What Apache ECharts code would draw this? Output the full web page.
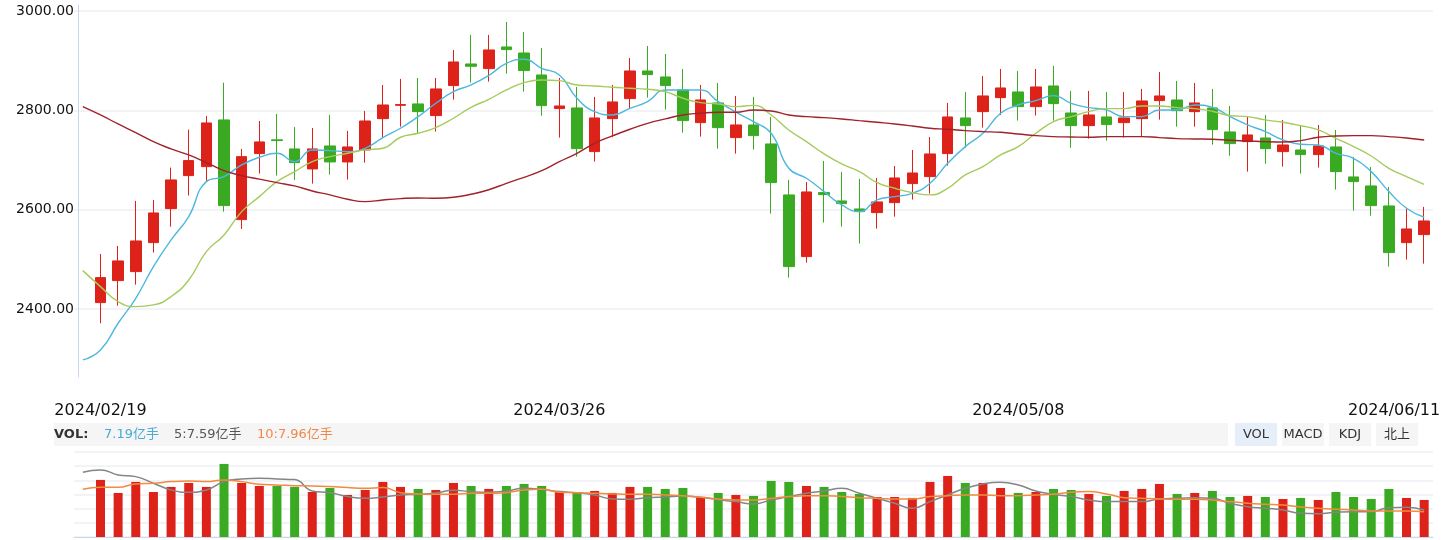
<!DOCTYPE html>
<html><head><meta charset="utf-8">
<script src="https://cdn.jsdelivr.net/npm/echarts@6/dist/echarts.min.js"></script>
<style>html,body{margin:0;padding:0;background:#fff}#c{width:1444px;height:540px}</style>
</head><body><div id="c"></div>
<script>
const dates = ['2024/02/08',
'2024/02/19','2024/02/20','2024/02/21','2024/02/22','2024/02/23','2024/02/26','2024/02/27','2024/02/28','2024/02/29',
'2024/03/01','2024/03/04','2024/03/05','2024/03/06','2024/03/07','2024/03/08','2024/03/11','2024/03/12','2024/03/13','2024/03/14','2024/03/15','2024/03/18','2024/03/19','2024/03/20','2024/03/21','2024/03/22','2024/03/25','2024/03/26','2024/03/27','2024/03/28','2024/03/29',
'2024/04/01','2024/04/02','2024/04/03','2024/04/08','2024/04/09','2024/04/10','2024/04/11','2024/04/12','2024/04/15','2024/04/16','2024/04/17','2024/04/18','2024/04/19','2024/04/22','2024/04/23','2024/04/24','2024/04/25','2024/04/26','2024/04/29','2024/04/30',
'2024/05/06','2024/05/07','2024/05/08','2024/05/09','2024/05/10','2024/05/13','2024/05/14','2024/05/15','2024/05/16','2024/05/17','2024/05/20','2024/05/21','2024/05/22','2024/05/23','2024/05/24','2024/05/27','2024/05/28','2024/05/29','2024/05/30','2024/05/31',
'2024/06/03','2024/06/04','2024/06/05','2024/06/06','2024/06/07','2024/06/11'];

const shownLabels = ['2024/02/19','2024/03/26','2024/05/08','2024/06/11'];

// candles (from 2024/02/19)
const opens = [2412.8,2457.1,2475.2,2533.6,2602.0,2668.5,2686.6,2780.6,2579.9,2712.8,
2740.5,2722.2,2681.9,2728.2,2696.0,2720.1,2783.2,2810.0,2812.8,2789.3,
2849.7,2893.3,2883.9,2927.5,2915.4,2871.1,2803.4,2804.7,2716.8,2783.2,
2823.5,2879.2,2867.1,2841.0,2775.2,2814.8,2745.0,2770.5,2732.2,2629.6,
2505.4,2634.3,2617.5,2601.4,2594.0,2614.1,2652.4,2666.5,2712.8,2784.6,
2797.3,2825.5,2836.9,2807.4,2849.0,2794.6,2769.1,2786.6,2775.2,2783.2,
2819.5,2820.8,2797.3,2804.7,2756.4,2736.9,2744.3,2716.8,2720.1,2710.8,
2726.2,2665.8,2647.7,2607.4,2533.6,2549.7];
const closes = [2463.1,2496.7,2536.9,2593.3,2659.8,2698.7,2774.5,2608.1,2706.7,2736.3,
2739.0,2694.6,2722.2,2696.0,2726.2,2778.5,2810.7,2811.5,2797.3,2843.0,
2897.3,2888.6,2921.5,2922.2,2879.9,2809.4,2808.7,2722.8,2784.6,2816.8,
2879.2,2871.8,2849.7,2779.2,2820.8,2765.1,2770.5,2749.0,2654.4,2485.3,
2635.6,2630.2,2612.1,2596.0,2615.5,2663.8,2673.8,2712.1,2786.6,2769.1,
2828.9,2845.0,2807.4,2847.0,2813.4,2769.1,2790.6,2771.2,2784.6,2818.8,
2828.9,2799.3,2814.8,2761.1,2732.9,2750.4,2722.8,2730.2,2710.8,2728.2,
2676.5,2656.4,2608.1,2513.5,2561.1,2577.2];
const lows = [2371.2,2406.7,2449.0,2513.5,2565.8,2628.2,2657.7,2596.0,2561.1,2672.5,
2668.5,2659.8,2652.4,2670.5,2660.4,2694.6,2745.0,2767.1,2753.0,2757.1,
2821.5,2855.7,2857.7,2873.8,2837.6,2789.3,2745.0,2706.7,2696.7,2745.7,
2802.7,2825.5,2801.4,2755.0,2747.0,2722.8,2712.8,2720.8,2592.0,2463.1,
2493.3,2573.9,2565.8,2531.6,2561.8,2585.9,2620.2,2632.2,2688.6,2724.8,
2765.1,2790.6,2779.2,2789.3,2779.2,2724.8,2743.0,2738.9,2745.0,2747.0,
2781.2,2767.1,2767.1,2730.9,2708.7,2676.5,2692.6,2686.6,2672.5,2684.6,
2640.3,2598.0,2587.9,2485.3,2499.4,2491.3];
const highs = [2510.8,2526.9,2617.5,2619.5,2684.6,2761.1,2788.6,2855.7,2722.2,2778.5,
2792.6,2766.5,2764.4,2790.6,2758.4,2798.7,2851.0,2863.1,2865.1,2865.1,
2921.5,2951.7,2951.7,2977.9,2957.7,2925.5,2865.1,2847.0,2826.9,2851.0,
2905.4,2929.5,2913.4,2883.2,2851.0,2855.0,2828.9,2826.9,2786.6,2659.8,
2655.7,2698.0,2675.9,2661.8,2663.8,2687.9,2720.1,2746.3,2814.8,2836.9,
2869.1,2883.2,2879.2,2883.2,2889.3,2838.9,2838.9,2836.9,2836.9,2843.0,
2877.2,2859.1,2855.0,2843.0,2808.7,2786.6,2790.6,2780.6,2770.5,2770.5,
2760.4,2706.1,2685.9,2645.7,2601.4,2605.4];

// moving averages (from 2024/02/08)
const ma5 = [2297.4,2317.5,2371.2,2421.5,2485.3,2539,2586,2656.4,2666.5,2690,
2705.4,2713.4,2696.7,2720.2,2718.8,2716.8,2723.5,2745,2763.8,2787.3,
2814.1,2837.6,2851,2870,2894.6,2902.7,2884.6,2871.1,2824.2,2797.3,
2790.6,2804,2817.5,2841,2841,2841,2817.5,2796.3,2777.2,2753.7,
2683.2,2663.1,2636.3,2609.4,2596,2619.5,2626.2,2632.9,2653,2693.2,
2726.9,2753.7,2794,2810.7,2819.5,2829.5,2814.1,2805.4,2800.7,2787.3,
2787.3,2800.7,2800.7,2810.7,2806,2787.3,2770.5,2757.1,2740.3,2731.6,
2730.2,2713.4,2703.4,2676.5,2636.3,2602.7,2584.6];
const ma10 = [2477.2,2445,2414.8,2404.7,2408.1,2424.9,2458.4,2515.5,2549,2596,
2626.2,2656.4,2676.5,2696.7,2706.7,2713.4,2720.2,2723.5,2745.7,2753.7,
2765.1,2784,2806,2822,2841,2855.7,2861.1,2859.7,2851,2849,
2846.3,2844.3,2842.3,2837.6,2824.2,2815.4,2812.8,2807.4,2810,2790.6,
2760.4,2736.9,2712.1,2692,2676.5,2654.4,2643,2634.3,2629.6,2643,
2669.8,2686.6,2710.1,2726.9,2753.7,2777.2,2787.3,2797.3,2803.4,2803.4,
2808.7,2808.7,2805.4,2803.4,2798,2789.3,2787.3,2780.6,2775.9,2769.1,
2760.4,2743.6,2726.9,2708,2683.2,2666.5,2651];
const maLong = [2807.4,2790.6,2772.5,2755,2736.9,2722.2,2710.1,2694.6,2678.5,2668.5,
2661.5,2654.4,2647.7,2637.6,2629.6,2620.8,2616.1,2619.5,2622.2,2623.5,
2622.8,2624.8,2630.9,2640,2653,2665.1,2678.5,2696.7,2713.4,2733.6,
2748.3,2761.8,2773.8,2782.6,2790.6,2794,2796,2796,2800.7,2798.7,
2790.6,2787.3,2785.2,2782.6,2779.2,2775.9,2772.5,2768.4,2763.8,2761.8,
2759.1,2757.1,2755.7,2752.4,2749,2747,2746.3,2745.7,2747,2747,
2747,2745,2743,2742.3,2741.6,2739.6,2738.3,2736.9,2736.3,2739,
2745.7,2748.3,2749,2749,2747,2744.3,2740.3];

// volume (亿手, from 2024/02/19)
const volumes = [11.08,8.55,10.69,8.74,9.72,10.49,9.72,14.18,10.49,9.91,
9.91,9.72,8.74,9.52,8.16,9.13,10.69,9.72,9.33,9.13,
10.49,9.91,9.33,9.91,10.30,9.91,8.94,8.74,8.94,8.55,
9.72,9.72,9.33,9.52,7.77,8.55,8.16,7.97,10.88,10.69,
9.91,9.72,8.74,8.36,7.77,7.77,7.58,10.69,11.85,10.49,
10.49,9.52,8.55,8.74,9.33,9.13,8.36,7.97,8.94,9.33,
10.30,8.36,8.55,8.94,7.77,7.97,7.77,7.38,7.58,7.19,
8.74,7.77,7.38,9.33,7.58,7.19];
const volMa5 = [12.57,13.02,12.05,11.72,10.43,9.13,8.68,9.13,10.75,11.27,
11.40,11.27,11.14,8.94,8.61,7.84,7.51,7.77,8.16,8.29,
8.55,9.07,8.81,8.68,8.94,9.46,9.26,8.81,8.61,8.16,
7.38,7.32,7.64,7.77,7.97,7.71,7.25,6.87,6.41,7.19,
7.84,8.48,8.94,9.46,8.48,7.51,6.54,5.57,6.87,8.16,
9.46,10.30,10.62,10.10,8.94,8.29,7.84,7.19,6.87,6.87,
6.87,7.38,7.51,7.64,7.51,6.54,5.89,5.57,5.25,4.60,
4.53,4.79,4.92,4.92,5.70,5.76,5.25];
const volMa10 = [9.26,9.65,9.65,10.30,10.43,10.75,10.88,10.75,11.08,10.75,
10.23,10.10,9.97,9.91,9.78,9.59,9.46,9.59,8.61,8.36,
8.29,8.29,8.48,8.48,8.61,9.13,9.26,8.68,8.61,8.48,
8.36,8.29,8.29,8.16,8.03,7.71,7.38,7.19,7.19,7.51,
7.84,8.03,8.03,7.84,7.64,7.51,7.38,7.38,7.84,8.03,
8.16,8.16,8.03,8.03,8.16,8.29,8.68,8.81,8.36,7.64,
7.51,7.38,7.32,7.32,7.19,6.87,6.54,6.35,6.22,5.83,
5.57,5.38,5.25,5.05,5.05,5.05,4.92];

const volLegend = {name: 'VOL:', cur: '7.19亿手', ma5: '5:7.59亿手', ma10: '10:7.96亿手'};
const tabs = ['VOL', 'MACD', 'KDJ', '北上'];

const RED = '#dd2219', GREEN = '#3aaa22';
const FONT = "'DejaVu Sans','Noto Sans CJK SC',sans-serif";

const kData = dates.map((d, i) => i === 0 ? ['-', '-', '-', '-'] :
  [opens[i - 1], closes[i - 1], lows[i - 1], highs[i - 1]]);
const volData = dates.map((d, i) => i === 0 ? '-' : {
  value: volumes[i - 1],
  itemStyle: {color: closes[i - 1] >= opens[i - 1] ? RED : GREEN}
});

const lastDate = dates[dates.length - 1];

const graphic = [
  {type: 'rect', shape: {x: 54, y: 423, width: 1174, height: 23}, style: {fill: '#f5f5f5'}, silent: true},
  {type: 'text', x: 54, y: 435, style: {text: volLegend.name, fill: '#333', font: "bold 13px " + FONT, textVerticalAlign: 'middle'}},
  {type: 'text', x: 104, y: 435, style: {text: volLegend.cur, fill: '#4aa9d6', font: "13px " + FONT, textVerticalAlign: 'middle'}},
  {type: 'text', x: 174, y: 435, style: {text: volLegend.ma5, fill: '#555', font: "13px " + FONT, textVerticalAlign: 'middle'}},
  {type: 'text', x: 257, y: 435, style: {text: volLegend.ma10, fill: '#f0884a', font: "13px " + FONT, textVerticalAlign: 'middle'}}
];
tabs.forEach((t, i) => {
  const x0 = 1235 + i * 47;
  graphic.push({type: 'rect', shape: {x: x0, y: 423, width: 42, height: 23},
    style: {fill: i === 0 ? '#e6eef9' : '#f5f5f5'}, silent: true});
  graphic.push({type: 'text', x: x0 + 21, y: 435,
    style: {text: t, fill: '#333', font: "13px " + FONT, textAlign: 'center', textVerticalAlign: 'middle'}});
});

const chart = echarts.init(document.getElementById('c'), null, {renderer: 'canvas'});
chart.setOption({
  animation: false,
  backgroundColor: '#ffffff',
  grid: [
    {left: 74, top: 5, width: 1359, height: 372, outerBoundsMode: 'none'},
    {left: 74, top: 452, width: 1359, height: 85, outerBoundsMode: 'none'}
  ],
  xAxis: [
    {type: 'category', gridIndex: 0, data: dates, boundaryGap: true,
      axisLine: {show: false}, axisTick: {show: false}, splitLine: {show: false},
      axisLabel: {
        interval: (idx, val) => shownLabels.includes(val),
        margin: 26, fontSize: 16, fontFamily: FONT, color: '#111',
        alignMaxLabel: 'right',
        formatter: v => v === lastDate ? '{last|' + v + '}' : v,
        rich: {last: {padding: [0, -16, 0, 0], fontSize: 16, fontFamily: FONT, color: '#111'}}
      }},
    {type: 'category', gridIndex: 1, data: dates, boundaryGap: true,
      axisLine: {show: true, lineStyle: {color: '#c9d7ec', width: 1}},
      axisTick: {show: false}, axisLabel: {show: false}, splitLine: {show: false}}
  ],
  yAxis: [
    {type: 'value', gridIndex: 0, min: 2263, max: 3012, splitNumber: 4, offset: -4,
      axisLine: {show: true, lineStyle: {color: '#c9d7ec', width: 1}},
      axisTick: {show: false},
      axisLabel: {showMinLabel: false, showMaxLabel: false, margin: 4, fontSize: 14,
        fontFamily: FONT, color: '#111', formatter: v => v.toFixed(2)},
      splitLine: {show: true, showMinLine: false, showMaxLine: false,
        lineStyle: {color: '#f2f3f6', width: 2}}},
    {type: 'value', gridIndex: 1, min: 0, max: 16.5, interval: 2.75,
      axisLine: {show: false}, axisTick: {show: false}, axisLabel: {show: false},
      splitLine: {show: true, lineStyle: {color: '#f2f3f6', width: 2}}}
  ],
  series: [
    {type: 'candlestick', xAxisIndex: 0, yAxisIndex: 0, data: kData, barWidth: 11,
      itemStyle: {color: RED, color0: GREEN, borderColor: RED, borderColor0: GREEN, borderWidth: 1}},
    {type: 'line', xAxisIndex: 0, yAxisIndex: 0, data: ma5, smooth: true, showSymbol: false, symbol: 'none',
      lineStyle: {color: '#4db8de', width: 1.4}},
    {type: 'line', xAxisIndex: 0, yAxisIndex: 0, data: ma10, smooth: true, showSymbol: false, symbol: 'none',
      lineStyle: {color: '#a5cb5c', width: 1.4}},
    {type: 'line', xAxisIndex: 0, yAxisIndex: 0, data: maLong, smooth: true, showSymbol: false, symbol: 'none',
      lineStyle: {color: '#a1222b', width: 1.4}},
    {type: 'bar', xAxisIndex: 1, yAxisIndex: 1, data: volData, barWidth: 9},
    {type: 'line', xAxisIndex: 1, yAxisIndex: 1, data: volMa5, smooth: true, showSymbol: false, symbol: 'none',
      lineStyle: {color: '#858585', width: 1.5}},
    {type: 'line', xAxisIndex: 1, yAxisIndex: 1, data: volMa10, smooth: true, showSymbol: false, symbol: 'none',
      lineStyle: {color: '#f28a3f', width: 1.5}}
  ],
  graphic: graphic
});
</script>
</body></html>
